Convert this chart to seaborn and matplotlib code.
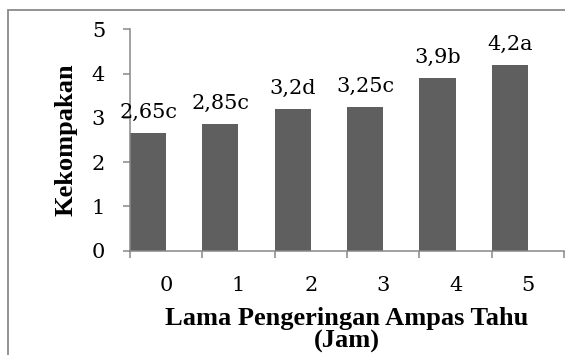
import matplotlib
matplotlib.use("Agg")
import matplotlib.pyplot as plt
from matplotlib.patches import Rectangle
from matplotlib.ticker import FixedLocator, NullFormatter, FixedFormatter
import pandas as pd
import seaborn as sns

# Data: compactness score per drying time, with significance letters
jam = ["0", "1", "2", "3", "4", "5"]
kekompakan = [2.65, 2.85, 3.2, 3.25, 3.9, 4.2]
notasi = ["c", "c", "d", "c", "b", "a"]
y_ticks = [0, 1, 2, 3, 4, 5]

BAR_COLOR = "#5f5f5f"
AXIS_COLOR = "#878787"
FRAME_COLOR = "#8a8a8a"

sns.set_theme(style="white")
plt.rcParams["font.family"] = ["DejaVu Serif", "DejaVu Sans"]

df = pd.DataFrame({"jam": jam, "kekompakan": kekompakan})
df["seri"] = "Kekompakan"

W, H = 565, 355
fig = plt.figure(figsize=(W / 100, H / 100), dpi=100)
ax = fig.add_axes([130 / W, (H - 250.5) / H, 434 / W, 221.2 / H])

# Two-slot clustered layout: the bar fills the left half of each category
sns.barplot(
    data=df, x="jam", y="kekompakan", hue="seri",
    order=jam, hue_order=["Kekompakan", "Kosong"],
    palette=[BAR_COLOR, BAR_COLOR], saturation=1,
    width=1.0, gap=0, dodge=True, linewidth=0,
    legend=False, ax=ax,
)

labels = [f"{v:g}".replace(".", ",") + n for v, n in zip(kekompakan, notasi)]
ax.bar_label(ax.containers[0], labels=labels, padding=8,
             fontsize=15, color="black")

ax.set_ylim(0, 5)
ax.set_xlim(-0.5, len(jam) - 0.5)
ax.set_yticks(y_ticks)
ax.set_yticklabels([str(t) for t in y_ticks])

# Ticks on category boundaries, labels at category centres
ax.xaxis.set_major_locator(FixedLocator([i - 0.5 for i in range(len(jam) + 1)]))
ax.xaxis.set_major_formatter(NullFormatter())
ax.xaxis.set_minor_locator(FixedLocator(list(range(len(jam)))))
ax.xaxis.set_minor_formatter(FixedFormatter(jam))

ax.tick_params(axis="x", which="major", direction="out", length=5,
               width=1.1, color=AXIS_COLOR, bottom=True)
ax.tick_params(axis="x", which="minor", length=0, pad=18.5,
               labelsize=15, labelcolor="black", bottom=True)
ax.tick_params(axis="y", which="major", direction="out", length=5,
               width=1.1, color=AXIS_COLOR, left=True, pad=13,
               labelsize=15, labelcolor="black")

for side in ("top", "right"):
    ax.spines[side].set_visible(False)
for side in ("left", "bottom"):
    ax.spines[side].set_color(AXIS_COLOR)
    ax.spines[side].set_linewidth(1.1)

title_font = dict(family=["Liberation Serif", "DejaVu Serif"],
                  fontweight="bold", fontsize=19, color="black")
ax.set_xlabel("Lama Pengeringan Ampas Tahu\n(Jam)", linespacing=1.0,
              **title_font)
ax.set_ylabel("Kekompakan", **title_font)
ax.xaxis.set_label_coords(0.5, -0.255)
ax.yaxis.set_label_coords(-0.12, 0.5)

# Chart-area frame
fig.add_artist(Rectangle((8 / W, -0.1), 1.2, 0.1 + (1 - 10 / H),
                         transform=fig.transFigure, fill=False,
                         edgecolor=FRAME_COLOR, linewidth=1.3))

fig.savefig("out.png", dpi=100)
